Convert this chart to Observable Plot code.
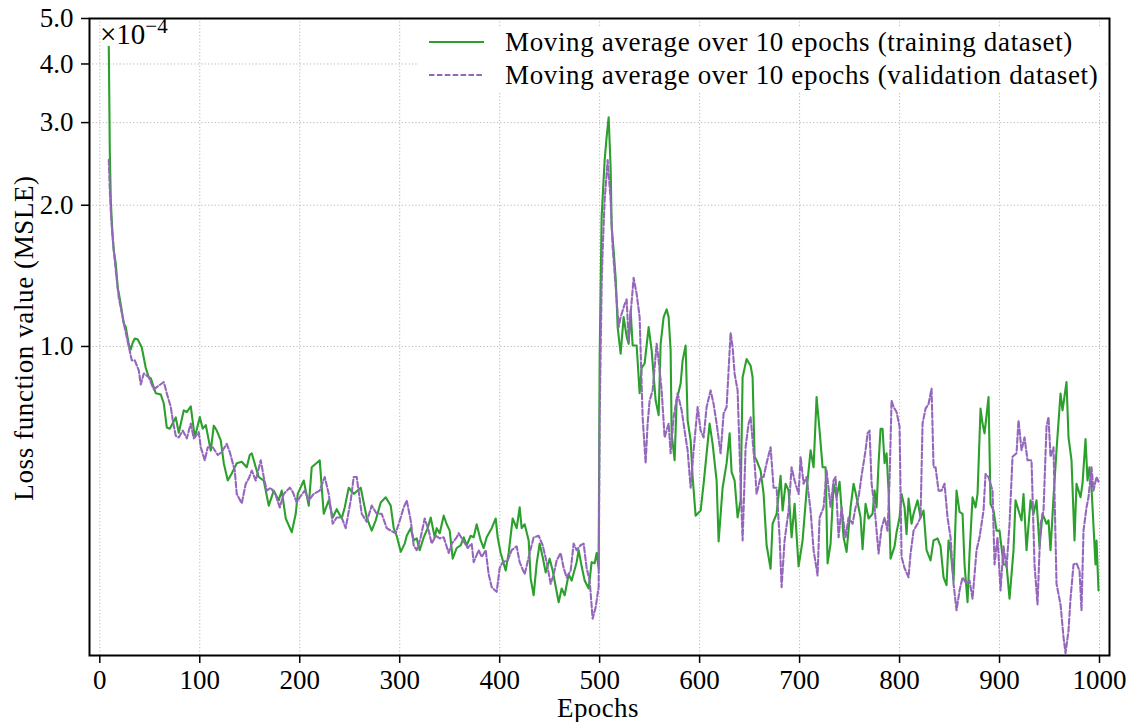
<!DOCTYPE html>
<html><head><meta charset="utf-8">
<script src="https://cdn.jsdelivr.net/npm/d3@7"></script>
<script src="https://cdn.jsdelivr.net/npm/@observablehq/plot@0.6"></script>
<style>html,body{margin:0;padding:0;background:#fff;} #chart{width:1130px;height:722px;}</style>
</head><body><div id="chart"></div>
<script>
// Loss values in units of 1e-4 (see "×10^-4" annotation)
const trainData = [[9,4.35],[10,2.6],[11,2.05],[12,1.85],[13,1.7],[14,1.6],[16,1.5],[18,1.33],[19,1.30],[22,1.19],[24,1.12],[26,1.10],[29,1.01],[31,0.985],[33,1.02],[35,1.04],[38,1.035],[42,0.995],[46,0.90],[49,0.86],[51,0.855],[56,0.795],[61,0.79],[64,0.756],[67,0.672],[70,0.668],[76,0.706],[79,0.655],[84,0.731],[87,0.725],[91,0.745],[95,0.64],[100,0.707],[103,0.668],[106,0.68],[111,0.60],[114,0.678],[117,0.662],[121,0.631],[124,0.564],[128,0.518],[132,0.536],[137,0.564],[142,0.568],[147,0.553],[150,0.587],[152,0.592],[156,0.553],[159,0.527],[164,0.518],[169,0.458],[174,0.493],[179,0.47],[182,0.493],[186,0.43],[192,0.402],[196,0.44],[198,0.485],[204,0.518],[209,0.458],[212,0.553],[220,0.572],[224,0.44],[229,0.47],[233,0.432],[237,0.45],[242,0.43],[245,0.454],[249,0.50],[254,0.485],[261,0.50],[267,0.432],[272,0.405],[276,0.426],[281,0.465],[286,0.477],[291,0.458],[294,0.41],[297,0.395],[301,0.365],[305,0.38],[307,0.395],[311,0.41],[314,0.386],[317,0.39],[320,0.368],[324,0.392],[328,0.41],[331,0.432],[335,0.392],[337,0.41],[340,0.40],[344,0.436],[347,0.418],[350,0.405],[353,0.353],[357,0.372],[361,0.377],[364,0.392],[367,0.377],[371,0.395],[374,0.392],[377,0.418],[381,0.386],[384,0.372],[387,0.392],[392,0.41],[396,0.43],[398,0.392],[401,0.363],[406,0.333],[409,0.363],[413,0.43],[417,0.41],[420,0.454],[422,0.41],[425,0.418],[429,0.386],[431,0.32],[434,0.295],[437,0.345],[440,0.38],[443,0.356],[446,0.33],[450,0.353],[453,0.333],[459,0.285],[462,0.305],[465,0.295],[469,0.327],[472,0.317],[477,0.347],[479,0.368],[482,0.34],[485,0.317],[489,0.305],[492,0.347],[495,0.345],[497,0.363],[499,0.337],[500,0.95],[502,1.89],[505,2.495],[507,2.8],[509,3.08],[511,2.4],[512,1.8],[514,1.6],[516,1.40],[517,1.254],[518,1.10],[521,0.965],[524,1.155],[527,1.05],[529,1.013],[531,1.194],[533,1.005],[537,1.005],[540,0.795],[542,0.90],[545,0.92],[549,1.10],[552,0.981],[556,0.767],[559,0.714],[561,1.013],[564,1.155],[567,1.20],[569,1.155],[571,0.981],[572,0.653],[575,0.572],[577,0.767],[581,0.834],[583,0.934],[586,1.005],[588,0.696],[591,0.631],[593,0.527],[596,0.436],[601,0.447],[604,0.51],[607,0.592],[610,0.685],[613,0.62],[617,0.518],[619,0.384],[623,0.50],[627,0.564],[630,0.653],[632,0.54],[635,0.518],[638,0.432],[641,0.47],[643,0.86],[647,0.94],[651,0.91],[653,0.86],[655,0.582],[657,0.572],[661,0.544],[664,0.485],[667,0.377],[671,0.336],[673,0.419],[677,0.44],[681,0.53],[683,0.447],[686,0.51],[689,0.493],[692,0.392],[695,0.462],[699,0.34],[703,0.386],[707,0.493],[711,0.601],[714,0.553],[717,0.78],[720,0.662],[723,0.553],[726,0.553],[728,0.345],[731,0.38],[734,0.51],[737,0.477],[740,0.515],[744,0.392],[747,0.365],[751,0.454],[754,0.51],[757,0.477],[761,0.432],[763,0.37],[766,0.462],[769,0.43],[773,0.44],[775,0.493],[777,0.454],[779,0.564],[781,0.668],[783,0.668],[785,0.564],[787,0.592],[789,0.493],[791,0.353],[795,0.375],[797,0.402],[800,0.432],[802,0.485],[805,0.454],[807,0.398],[809,0.474],[812,0.419],[814,0.44],[818,0.47],[821,0.432],[824,0.447],[827,0.368],[831,0.35],[834,0.386],[838,0.39],[841,0.375],[844,0.322],[847,0.31],[849,0.386],[851,0.368],[854,0.317],[857,0.493],[860,0.444],[863,0.44],[865,0.343],[868,0.285],[870,0.362],[873,0.477],[876,0.454],[878,0.485],[881,0.737],[883,0.685],[885,0.653],[889,0.78],[891,0.462],[894,0.447],[897,0.405],[900,0.405],[904,0.343],[907,0.343],[910,0.29],[914,0.368],[916,0.47],[920,0.44],[922,0.426],[924,0.485],[927,0.368],[931,0.47],[934,0.44],[937,0.47],[940,0.375],[943,0.44],[947,0.419],[949,0.426],[951,0.368],[954,0.477],[957,0.601],[961,0.794],[963,0.731],[967,0.84],[969,0.64],[972,0.572],[975,0.386],[977,0.51],[981,0.477],[983,0.51],[986,0.635],[988,0.518],[990,0.553],[992,0.50],[996,0.343],[997,0.386],[999,0.302]];

const valData = [[9,2.5],[10,2.15],[11,1.95],[12,1.8],[14,1.6],[16,1.45],[19,1.27],[22,1.18],[24,1.12],[29,1.0],[32,0.934],[35,0.934],[39,0.889],[41,0.83],[44,0.876],[49,0.86],[54,0.81],[59,0.825],[64,0.84],[67,0.795],[71,0.743],[73,0.696],[76,0.645],[79,0.64],[83,0.662],[87,0.637],[91,0.685],[94,0.637],[99,0.657],[101,0.61],[105,0.572],[108,0.61],[113,0.61],[118,0.587],[122,0.596],[127,0.62],[130,0.596],[135,0.544],[137,0.485],[142,0.463],[146,0.51],[149,0.523],[152,0.544],[156,0.518],[161,0.572],[164,0.527],[167,0.493],[171,0.50],[176,0.482],[180,0.454],[184,0.485],[190,0.50],[193,0.49],[197,0.465],[200,0.477],[205,0.493],[209,0.47],[214,0.485],[220,0.493],[225,0.527],[229,0.485],[233,0.419],[237,0.432],[242,0.432],[246,0.41],[251,0.47],[254,0.527],[257,0.527],[262,0.44],[267,0.423],[272,0.458],[277,0.44],[282,0.44],[287,0.41],[291,0.405],[296,0.40],[301,0.432],[304,0.454],[307,0.47],[311,0.426],[314,0.377],[317,0.368],[321,0.392],[325,0.43],[329,0.405],[332,0.38],[336,0.395],[340,0.39],[344,0.392],[349,0.363],[352,0.38],[357,0.392],[359,0.40],[364,0.384],[368,0.372],[372,0.38],[374,0.347],[379,0.368],[382,0.356],[386,0.368],[389,0.327],[392,0.307],[397,0.30],[400,0.337],[403,0.347],[408,0.35],[412,0.368],[417,0.375],[420,0.347],[425,0.327],[430,0.363],[434,0.392],[439,0.395],[443,0.377],[447,0.347],[451,0.312],[454,0.327],[457,0.35],[461,0.363],[464,0.337],[467,0.322],[471,0.333],[474,0.38],[477,0.368],[481,0.377],[484,0.38],[487,0.337],[490,0.317],[493,0.263],[496,0.278],[499,0.307],[500,0.7],[502,1.35],[503,1.603],[505,2.05],[508,2.495],[511,2.05],[513,1.63],[516,1.34],[519,1.10],[521,1.155],[525,1.23],[527,1.26],[529,1.03],[531,1.175],[534,1.40],[537,1.295],[540,1.155],[543,0.707],[546,0.564],[548,0.685],[550,0.767],[553,0.806],[557,1.013],[559,0.934],[562,0.806],[565,0.64],[569,0.685],[571,0.592],[574,0.707],[578,0.795],[582,0.731],[586,0.64],[588,0.601],[591,0.50],[594,0.601],[598,0.743],[601,0.662],[604,0.64],[607,0.743],[611,0.806],[614,0.754],[617,0.685],[621,0.592],[624,0.72],[627,0.743],[631,1.07],[633,0.997],[635,0.875],[638,0.806],[641,0.51],[643,0.386],[646,0.61],[649,0.685],[651,0.707],[655,0.564],[657,0.485],[661,0.527],[664,0.527],[667,0.564],[671,0.61],[674,0.50],[677,0.50],[680,0.392],[682,0.307],[685,0.386],[689,0.447],[692,0.553],[695,0.518],[699,0.485],[701,0.582],[704,0.51],[707,0.527],[711,0.447],[714,0.368],[718,0.325],[720,0.432],[724,0.454],[727,0.544],[731,0.454],[734,0.518],[736,0.527],[739,0.392],[742,0.454],[746,0.392],[749,0.432],[753,0.419],[756,0.454],[759,0.477],[762,0.53],[766,0.601],[768,0.653],[770,0.662],[772,0.51],[775,0.454],[779,0.362],[782,0.41],[785,0.432],[788,0.405],[790,0.518],[792,0.767],[794,0.743],[797,0.725],[800,0.675],[802,0.356],[805,0.337],[809,0.322],[811,0.362],[814,0.405],[818,0.419],[821,0.432],[823,0.685],[826,0.737],[829,0.754],[832,0.813],[834,0.553],[836,0.553],[839,0.493],[842,0.493],[845,0.51],[848,0.432],[851,0.392],[854,0.312],[857,0.274],[860,0.302],[863,0.322],[867,0.312],[870,0.317],[873,0.29],[877,0.368],[880,0.392],[884,0.447],[886,0.535],[889,0.527],[893,0.493],[895,0.343],[898,0.392],[901,0.302],[904,0.375],[907,0.337],[910,0.419],[913,0.582],[917,0.592],[919,0.696],[922,0.601],[925,0.64],[928,0.572],[932,0.572],[935,0.343],[938,0.282],[941,0.419],[944,0.447],[947,0.675],[949,0.707],[951,0.582],[954,0.61],[957,0.312],[961,0.282],[964,0.24],[966,0.222],[969,0.248],[971,0.29],[974,0.343],[977,0.345],[980,0.333],[982,0.274],[984,0.405],[987,0.454],[989,0.477],[992,0.553],[994,0.493],[997,0.527],[999,0.515]];

const xTicks = [0,100,200,300,400,500,600,700,800,900,1000];
const yTicks = [1,2,3,4,5];
const seriesNames = ["Moving average over 10 epochs (training dataset)", "Moving average over 10 epochs (validation dataset)"];
const seriesColors = ["#2ca02c", "#9467bd"];
const xLabel = "Epochs";
const yLabel = "Loss function value (MSLE)";

const train = trainData.map(([e, v]) => ({epoch: e, loss: v}));
const val = valData.map(([e, v]) => ({epoch: e, loss: v}));

const FONT = "'Liberation Serif', 'Times New Roman', serif";
const FS = 27;
const gridStyle = {stroke: "#b0b0b0", strokeOpacity: 1, strokeWidth: 0.9, strokeDasharray: "1.2,2.2"};

const chart = Plot.plot({
  width: 1130, height: 722,
  marginLeft: 89, marginRight: 21, marginTop: 18, marginBottom: 67,
  style: {fontFamily: FONT, fontSize: FS + "px", background: "#fff", color: "#000", overflow: "visible"},
  x: {domain: [-10.3, 1010]},
  y: {type: "log", domain: [0.2195, 5]},
  marks: [
    Plot.gridX(xTicks, gridStyle),
    Plot.gridY(yTicks, gridStyle),
    Plot.line(train, {x: "epoch", y: "loss", stroke: seriesColors[0], strokeWidth: 2.1}),
    Plot.line(val, {x: "epoch", y: "loss", stroke: seriesColors[1], strokeWidth: 2.1, strokeDasharray: "5.5,2.4"}),
    Plot.frame({stroke: "#000", strokeWidth: 2}),
    Plot.axisX(xTicks, {tickSize: 8, tickPadding: 6, strokeWidth: 1.5, fontSize: FS, tickFormat: d => String(d), label: null}),
    Plot.axisY(yTicks, {tickSize: 8, tickPadding: 8, strokeWidth: 1.5, fontSize: FS, tickFormat: d => d.toFixed(1), label: null})
  ]
});
document.getElementById("chart").appendChild(chart);

const svg = d3.select(chart);
// axis titles
svg.append("text").attr("x", 598).attr("y", 717).attr("text-anchor", "middle")
  .attr("font-family", FONT).attr("font-size", FS).attr("letter-spacing", 0.4).attr("fill", "#000").text(xLabel);
svg.append("text").attr("transform", "translate(33,338) rotate(-90)").attr("text-anchor", "middle")
  .attr("font-family", FONT).attr("font-size", FS).attr("letter-spacing", 0.6).attr("fill", "#000").text(yLabel);
// offset multiplier
const mult = svg.append("text").attr("x", 100).attr("y", 44).attr("text-anchor", "start")
  .attr("font-family", FONT).attr("font-size", 29).attr("fill", "#000");
mult.append("tspan").text("×10");
mult.append("tspan").attr("dy", -11).attr("font-size", 21).text("−4");
// legend
const lg = svg.append("g").attr("text-anchor", "start");
lg.append("rect").attr("x", 419).attr("y", 27).attr("width", 687).attr("height", 64).attr("fill", "#fff");
seriesNames.forEach((name, i) => {
  const y = 42 + i * 33;
  lg.append("line").attr("x1", 429).attr("x2", 484).attr("y1", y).attr("y2", y)
    .attr("stroke", seriesColors[i]).attr("stroke-width", 2)
    .attr("stroke-dasharray", i === 1 ? "5.5,2.4" : null);
  lg.append("text").attr("x", 505).attr("y", y).attr("dy", "0.33em").attr("text-anchor", "start")
    .attr("letter-spacing", 0.65)
    .attr("font-family", FONT).attr("font-size", FS).attr("fill", "#000").text(name);
});
</script>
</body></html>
